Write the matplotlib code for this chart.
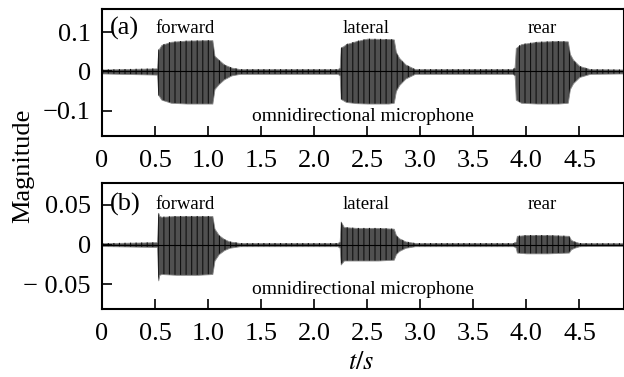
import matplotlib
matplotlib.use('Agg')
import matplotlib.pyplot as plt

plt.rcParams['font.family'] = ['Liberation Serif', 'DejaVu Serif']
plt.rcParams['mathtext.fontset'] = 'stix'
plt.rcParams['hatch.linewidth'] = 0.8

t_a = [0, 0.52, 0.53, 0.56, 0.65, 0.8, 1.0, 1.04, 1.06, 1.1, 1.15, 1.22, 1.3,
       2.22, 2.24, 2.25, 2.3, 2.4, 2.5, 2.7, 2.75, 2.77, 2.8, 2.86, 2.95,
       3.87, 3.89, 3.9, 3.95, 4.1, 4.3, 4.39, 4.41, 4.44, 4.5, 4.6, 4.92]
up_a = [0.005, 0.008, 0.055, 0.068, 0.076, 0.079, 0.080, 0.080, 0.040, 0.030, 0.018, 0.010, 0.006,
        0.006, 0.010, 0.060, 0.070, 0.078, 0.084, 0.083, 0.082, 0.050, 0.035, 0.018, 0.006,
        0.006, 0.010, 0.060, 0.070, 0.076, 0.078, 0.077, 0.045, 0.030, 0.014, 0.006, 0.005]
lo_a = [-0.005, -0.008, -0.060, -0.072, -0.080, -0.082, -0.082, -0.082, -0.045, -0.032, -0.020, -0.010, -0.006,
        -0.006, -0.010, -0.070, -0.078, -0.081, -0.082, -0.082, -0.080, -0.050, -0.035, -0.018, -0.006,
        -0.006, -0.010, -0.072, -0.080, -0.082, -0.082, -0.080, -0.045, -0.030, -0.014, -0.006, -0.005]

t_b = [0, 0.52, 0.53, 0.54, 0.56, 0.7, 0.9, 1.04, 1.06, 1.1, 1.15, 1.2, 1.3,
       2.22, 2.24, 2.25, 2.28, 2.4, 2.6, 2.75, 2.77, 2.8, 2.86, 2.95,
       3.88, 3.9, 3.91, 4.0, 4.2, 4.4, 4.42, 4.45, 4.5, 4.6, 4.92]
up_b = [0.0018, 0.003, 0.040, 0.036, 0.035, 0.036, 0.036, 0.036, 0.020, 0.012, 0.007, 0.004, 0.002,
        0.002, 0.004, 0.029, 0.022, 0.021, 0.021, 0.020, 0.012, 0.008, 0.004, 0.002,
        0.002, 0.004, 0.011, 0.012, 0.012, 0.011, 0.006, 0.004, 0.002, 0.0018, 0.0018]
lo_b = [-0.0018, -0.003, -0.045, -0.038, -0.037, -0.038, -0.038, -0.037, -0.020, -0.012, -0.007, -0.004, -0.002,
        -0.002, -0.004, -0.025, -0.020, -0.020, -0.020, -0.019, -0.012, -0.008, -0.004, -0.002,
        -0.002, -0.004, -0.010, -0.011, -0.011, -0.010, -0.006, -0.004, -0.002, -0.0018, -0.0018]

xticks = [0, 0.5, 1.0, 1.5, 2.0, 2.5, 3.0, 3.5, 4.0, 4.5]
xlabels = ['0', '0.5', '1.0', '1.5', '2.0', '2.5', '3.0', '3.5', '4.0', '4.5']
yticks_a = [-0.1, 0, 0.1]
ylabels_a = ['\u22120.1', '0', '0.1']
yticks_b = [-0.05, 0, 0.05]
ylabels_b = ['\u2212 0.05', '0', '0.05']

sources = ['forward', 'lateral', 'rear']
source_x = [0.78, 2.49, 4.15]

fig = plt.figure(figsize=(6.24, 3.77), dpi=100)
ax1 = fig.add_axes([0.1635, 0.6393, 0.8365, 0.337])
ax2 = fig.add_axes([0.1635, 0.1804, 0.8365, 0.3342])

panels = [(ax1, t_a, up_a, lo_a, (-0.165, 0.16), yticks_a, ylabels_a, '(a)', 0.111, -0.114),
          (ax2, t_b, up_b, lo_b, (-0.081, 0.0775), yticks_b, ylabels_b, '(b)', 0.051, -0.057)]

for ax, t, up, lo, ylim, yt, yl, tag, ytxt, ymic in panels:
    ax.fill_between(t, lo, up, facecolor='#505050', edgecolor='#8a8a8a', linewidth=0.6)
    ax.fill_between(t, lo, up, facecolor='none', edgecolor='#111111', hatch='|||', linewidth=0)
    ax.plot(t, [0] * len(t), color='black', lw=0.8)
    ax.set_xlim(0, 4.92)
    ax.set_ylim(*ylim)
    ax.set_xticks(xticks)
    ax.set_xticklabels(xlabels)
    ax.set_yticks(yt)
    ax.set_yticklabels(yl)
    ax.tick_params(direction='in', length=7, width=1.2, labelsize=19, pad=10,
                   top=False, right=False)
    ax.tick_params(axis='y', pad=8)
    for s in ax.spines.values():
        s.set_linewidth(1.5)
    ax.text(0.07, ytxt, tag, fontsize=19, va='center', ha='left')
    for name, x in zip(sources, source_x):
        ax.text(x, ytxt, name, fontsize=13.5, ha='center', va='center')
    ax.text(2.46, ymic, 'omnidirectional microphone', fontsize=14, ha='center', va='center')

fig.text(0.038, 0.56, 'Magnitude', rotation=90, fontsize=19, ha='center', va='center')
fig.text(0.578, 0.036, '$t/s$', fontsize=19, ha='center', va='center')

fig.savefig('out.png', dpi=100)
